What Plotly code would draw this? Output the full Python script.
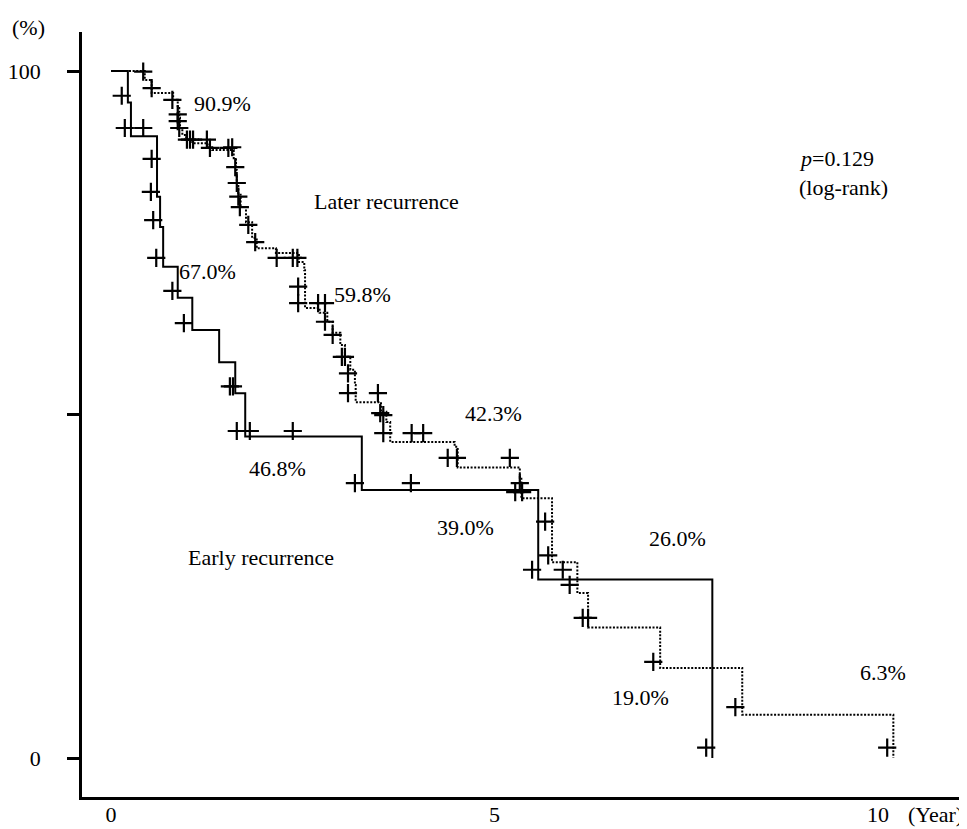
import plotly.graph_objects as go

# ---- data (time in years, survival in %) ----
early_time = [0, 0.22, 0.26, 0.60, 0.64, 0.68, 0.87, 1.06, 1.41, 1.62, 1.75, 3.27, 5.57, 7.84]
early_surv = [100, 95.4, 90.5, 81.7, 77.3, 71.5, 67.0, 62.3, 57.6, 53.1, 46.8, 39.0, 26.0, 0]
early_cens_time = [0.14, 0.18, 0.42, 0.53, 0.52, 0.55, 0.59, 0.80, 0.95, 1.55, 1.59, 1.64, 1.81,
                   2.37, 3.18, 3.91, 5.27, 5.36, 5.49, 7.76]
early_cens_surv = [96.4, 91.7, 91.7, 87.2, 82.4, 78.3, 72.8, 68.0, 63.3, 54.1, 54.1, 47.6, 47.6,
                   47.6, 40.0, 40.0, 38.7, 38.7, 27.4, 1.5]

later_time = [0, 0.44, 0.53, 0.81, 0.87, 0.89, 0.90, 0.93, 0.98, 1.06,
              1.26, 1.32, 1.60, 1.63, 1.64, 1.66, 1.69, 1.76, 1.84, 1.90,
              2.15, 2.45, 2.52, 2.53, 2.72, 2.82, 2.89, 2.99, 3.05, 3.12,
              3.18, 3.19, 3.52, 3.59, 3.64, 4.48, 4.52, 5.33, 5.35, 5.75,
              6.08, 6.22, 7.16, 8.23, 10.20]
later_surv = [100, 98.7, 96.8, 95.8, 94.6, 93.2, 91.7, 90.7, 90.0, 89.5,
              88.9, 88.5, 87.3, 85.6, 83.7, 82.0, 80.2, 78.0, 75.7, 74.2,
              73.5, 72.2, 71.0, 65.5, 64.8, 63.5, 61.9, 60.1, 58.4, 56.5,
              54.3, 51.8, 50.4, 48.9, 46.0, 45.3, 42.3, 40.8, 37.8, 28.5,
              24.0, 19.0, 13.1, 6.3, 0]
later_cens_time = [0.42, 0.53, 0.80, 0.87, 0.87, 0.89, 0.99, 1.03, 1.07, 1.25,
                   1.29, 1.53, 1.58, 1.62, 1.64, 1.66, 1.68, 1.79, 1.88, 2.16,
                   2.37, 2.43, 2.44, 2.44, 2.70, 2.79, 2.79, 2.89, 3.01, 3.05,
                   3.09, 3.09, 3.48, 3.51, 3.55, 3.55, 3.92, 4.07, 4.39, 4.51,
                   5.20, 5.33, 5.66, 5.70, 5.89, 5.98, 6.15, 6.22, 7.07, 8.14, 10.12]
later_cens_surv = [99.9, 97.5, 95.8, 93.7, 92.7, 91.7, 90.0, 90.0, 90.0, 90.0,
                   88.8, 88.8, 88.9, 86.0, 83.7, 81.7, 80.2, 77.6, 75.1, 72.8,
                   72.8, 72.8, 68.6, 66.2, 66.2, 66.2, 63.5, 61.6, 58.4, 58.4,
                   56.0, 53.1, 53.1, 50.2, 49.9, 47.3, 47.3, 47.3, 43.7, 43.7,
                   43.7, 40.0, 34.4, 29.5, 27.4, 25.2, 20.4, 20.4, 14.0, 7.4, 1.5]

x_tick_vals = [0, 5, 10]
x_tick_text = ["0", "5", "10"]
y_tick_vals = [0, 50, 100]
y_tick_text = ["0", "", "100"]

# ---- layout (page pixels; the page body has an 8px margin) ----
PAGE_W, PAGE_H, OFF = 967, 829, 8
W, H = PAGE_W - OFF, PAGE_H - OFF
PLOT_L, PLOT_R, PLOT_T, PLOT_B = 82, 967, 32, 797  # plot area in page pixels
X0PX, XSCALE = 111.0, 76.7
Y0PX, YSCALE = 758.0, 6.87
def px2x(px):
    return (px - X0PX) / XSCALE
def px2y(py):
    return (Y0PX - py) / YSCALE
def paper_x(px):
    return (px - PLOT_L) / (PLOT_R - PLOT_L)
def paper_y(py):
    return (PLOT_B - py) / (PLOT_B - PLOT_T)

FONT = "Liberation Serif"
FS = 22

fig = go.Figure()
fig.add_trace(go.Scatter(x=later_time, y=later_surv, mode="lines", line_shape="hv",
                         line=dict(color="black", width=2, dash="2px,1.6px"), hoverinfo="skip"))
fig.add_trace(go.Scatter(x=early_time, y=early_surv, mode="lines", line_shape="hv",
                         line=dict(color="black", width=2), hoverinfo="skip"))
marker = dict(symbol="cross-thin", size=13, color="black", line=dict(color="black", width=2.2))
fig.add_trace(go.Scatter(x=early_cens_time, y=early_cens_surv, mode="markers", marker=marker))
fig.add_trace(go.Scatter(x=later_cens_time, y=later_cens_surv, mode="markers", marker=marker))

labels = [
    ("90.9%", 222, 103, "center"),
    ("Later recurrence", 386, 201, "center"),
    ("67.0%", 207, 271, "center"),
    ("59.8%", 362, 294, "center"),
    ("42.3%", 493, 413, "center"),
    ("46.8%", 277, 468, "center"),
    ("39.0%", 465, 527, "center"),
    ("Early recurrence", 261, 557, "center"),
    ("26.0%", 677, 538, "center"),
    ("19.0%", 640, 697, "center"),
    ("6.3%", 883, 672, "center"),
    ("<i>p</i>=0.129", 797, 158, "left"),
    ("(log-rank)", 797, 187, "left"),
]
annotations = [dict(text=t, x=px2x(px), y=px2y(py), xref="x", yref="y", showarrow=False,
                    xanchor=xa, yanchor="middle", font=dict(family=FONT, size=FS, color="black"))
               for t, px, py, xa in labels]
for t, px, py, xa in [("(%)", 28, 27, "center"), ("(Year)", 965, 815, "right")]:
    annotations.append(dict(text=t, x=paper_x(px), y=paper_y(py), xref="paper", yref="paper",
                            showarrow=False, xanchor=xa, yanchor="middle",
                            font=dict(family=FONT, size=FS, color="black")))

x_lo, x_hi = px2x(PLOT_L), px2x(PLOT_R)
y_lo, y_hi = px2y(PLOT_B), px2y(PLOT_T)

fig.update_layout(
    width=W, height=H,
    margin=dict(l=PLOT_L - OFF, r=PAGE_W - PLOT_R, t=PLOT_T - OFF, b=PAGE_H - PLOT_B,
                autoexpand=False),
    paper_bgcolor="white", plot_bgcolor="white", showlegend=False,
    font=dict(family=FONT, size=FS, color="black"),
    annotations=annotations,
    xaxis=dict(range=[x_lo, x_hi], showline=True, linecolor="black", linewidth=2.5,
               showgrid=False, zeroline=False, ticks="", tickvals=x_tick_vals,
               ticktext=x_tick_text, ticklabelstandoff=-4,
               tickfont=dict(family=FONT, size=FS, color="black"), fixedrange=True),
    yaxis=dict(range=[y_lo, y_hi], showline=True, linecolor="black", linewidth=2.5,
               showgrid=False, zeroline=False, ticks="outside", ticklen=12, tickwidth=2.5,
               tickcolor="black", tickvals=y_tick_vals, ticktext=y_tick_text,
               ticklabelstandoff=22,
               tickfont=dict(family=FONT, size=FS, color="black"), fixedrange=True),
)

fig.write_html("out.html")
